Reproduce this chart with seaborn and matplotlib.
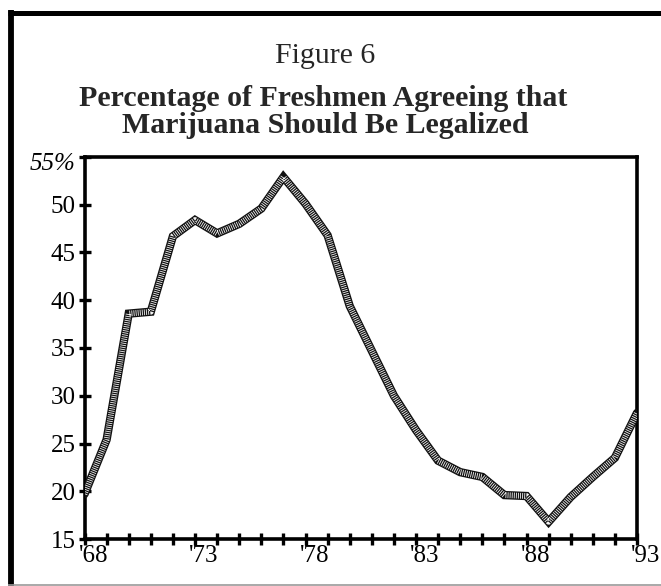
import matplotlib
matplotlib.use("Agg")
import matplotlib.pyplot as plt
import matplotlib.transforms as mtransforms
from matplotlib.lines import Line2D
import seaborn as sns
import pandas as pd

# ---- data ----
years = list(range(1968, 1994))
percent_agree = [19.7, 25.4, 38.6, 38.8, 46.7, 48.4, 47.0, 48.0, 49.6, 52.9,
                 50.1, 46.8, 39.4, 34.7, 30.0, 26.4, 23.2, 22.0, 21.5, 19.6,
                 19.5, 16.8, 19.4, 21.5, 23.5, 28.2]
x_tick_years = [1968, 1973, 1978, 1983, 1988, 1993]
x_tick_labels = ["'68", "'73", "'78", "'83", "'88", "'93"]
y_ticks = [15, 20, 25, 30, 35, 40, 45, 50, 55]
y_tick_labels = ["15", "20", "25", "30", "35", "40", "45", "50", "55%"]

title1 = "Figure 6"
title2 = "Percentage of Freshmen Agreeing that"
title3 = "Marijuana Should Be Legalized"

df = pd.DataFrame({"year": years, "pct": percent_agree})

sns.set_theme(style="ticks")
plt.rcParams["font.family"] = ["Liberation Serif", "DejaVu Serif"]
plt.rcParams["lines.scale_dashes"] = False

fig = plt.figure(figsize=(6.61, 5.86), dpi=100)
ax = fig.add_axes([84.5 / 661, 1 - 539 / 586, (637 - 84.5) / 661, (539 - 157) / 586])

# thick checkered-looking line: dark base + fine white dotted overlay
sns.lineplot(data=df, x="year", y="pct", ax=ax, color="#111111", linewidth=6.0,
             solid_joinstyle="miter", zorder=3)
sns.lineplot(data=df, x="year", y="pct", ax=ax, color="#f4f4f4", linewidth=4.2,
             linestyle=(0, (0.6, 0.9)), zorder=4)

ax.set_xlim(1968, 1993)
ax.set_ylim(15, 55)
ax.set_xlabel("")
ax.set_ylabel("")

for s in ["left", "right", "top", "bottom"]:
    ax.spines[s].set_visible(True)
    ax.spines[s].set_linewidth(2.6)
    ax.spines[s].set_color("black")

ax.set_xticks(x_tick_years)
ax.set_xticklabels(x_tick_labels)
ax.set_xticks(years, minor=True)
ax.set_yticks(y_ticks)
ax.set_yticklabels(y_tick_labels)

ax.tick_params(axis="both", which="both", direction="inout", length=9, width=2.4,
               color="black", labelsize=18, labelcolor="black")
ax.tick_params(axis="x", which="both", pad=0)
ax.tick_params(axis="y", which="both", pad=2)

offset = mtransforms.ScaledTranslation(9 / 100, 0, fig.dpi_scale_trans)
for lbl in ax.get_xticklabels():
    lbl.set_transform(lbl.get_transform() + offset)
ylbls = ax.get_yticklabels()
ylbls[-1].set_style("italic")
ylbls[-1].set_transform(ylbls[-1].get_transform() +
                        mtransforms.ScaledTranslation(0, -4 / 100, fig.dpi_scale_trans))

# titles
fig.text(325 / 661, 1 - 63 / 586, title1, ha="center", va="baseline", fontsize=21.5)
fig.text(323 / 661, 1 - 106 / 586, title2, ha="center", va="baseline", fontsize=21.5,
         fontweight="bold")
fig.text(325 / 661, 1 - 133 / 586, title3, ha="center", va="baseline", fontsize=21.5,
         fontweight="bold")

# outer frame (thick left and top, thin grey bottom)
fig.add_artist(Line2D([10.5 / 661, 10.5 / 661], [0, 1 - 10 / 586], transform=fig.transFigure,
                      color="black", linewidth=4.2, solid_capstyle="butt"))
fig.add_artist(Line2D([8 / 661, 1], [1 - 12.5 / 586, 1 - 12.5 / 586], transform=fig.transFigure,
                      color="black", linewidth=3.6, solid_capstyle="butt"))
fig.add_artist(Line2D([8 / 661, 1], [1 - 585 / 586, 1 - 585 / 586], transform=fig.transFigure,
                      color="#999999", linewidth=1.2, solid_capstyle="butt"))

fig.savefig("out.png", dpi=100)
